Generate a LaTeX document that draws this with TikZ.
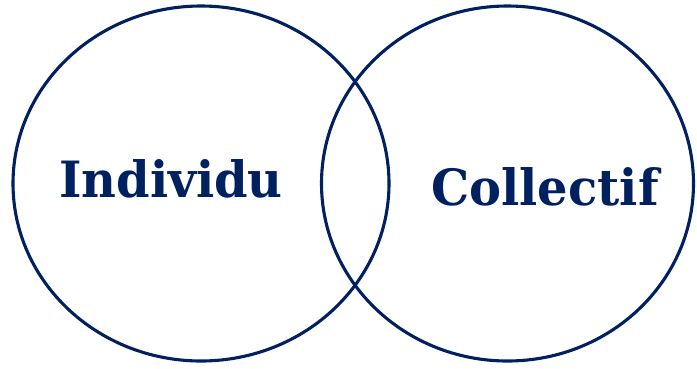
\documentclass[tikz,border=0pt]{standalone}
\usepackage{fontspec}
\usetikzlibrary{shapes.geometric}
\newfontfamily\labelfont{DejaVu Serif}
\definecolor{navy}{HTML}{002060}
\begin{document}
\begin{tikzpicture}[x=1pt,y=-1pt,
  ring/.style={ellipse, draw=navy, line width=3.1pt, inner sep=0pt, outer sep=0pt},
  lbl/.style={anchor=base, text=navy, inner sep=0pt, xscale=0.96, font=\labelfont\bfseries\fontsize{50}{60}\selectfont}]
\useasboundingbox (0,0) rectangle (697,368);
\node[ring, minimum width=376pt, minimum height=355pt] (ind) at (201,183.5) {};
\node[ring, minimum width=372pt, minimum height=355pt] (col) at (507.5,183.5) {};
\node[lbl] (tind) at (171,197) {Individu};
\node[lbl] (tcol) at (545,205) {Collectif};
\end{tikzpicture}
\end{document}
